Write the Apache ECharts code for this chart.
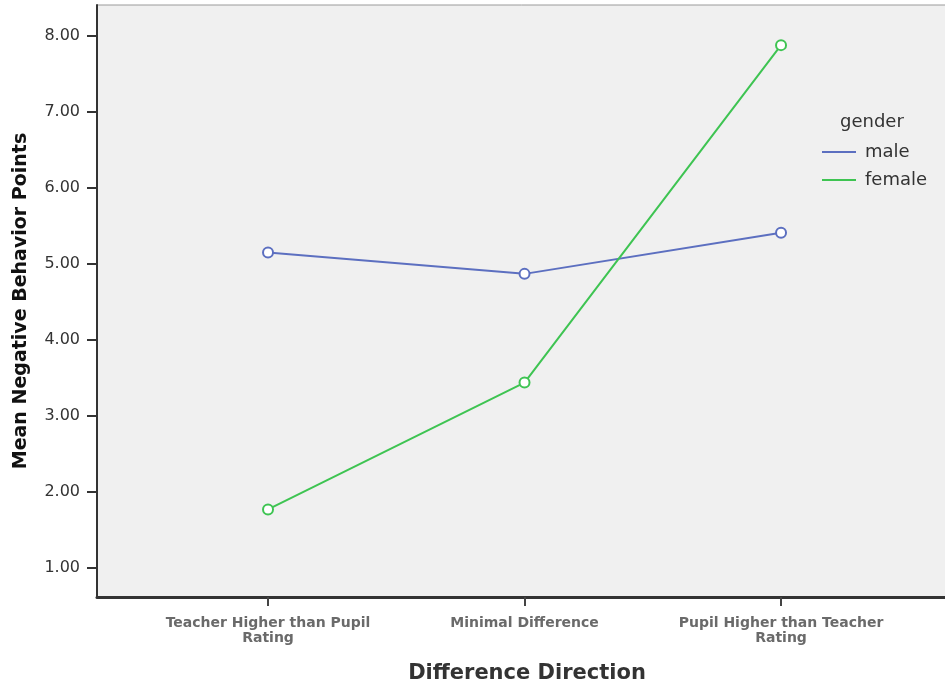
<!DOCTYPE html>
<html><head><meta charset="utf-8">
<script src="https://cdn.jsdelivr.net/npm/echarts@6/dist/echarts.min.js"></script>
<style>html,body{margin:0;padding:0;background:#fff}#c{width:945px;height:689px}</style>
</head><body><div id="c"></div>
<script>
const categories = ['Teacher Higher than Pupil\nRating', 'Minimal Difference', 'Pupil Higher than Teacher\nRating'];
const maleValues = [5.15, 4.87, 5.41];
const femaleValues = [1.77, 3.44, 7.88];
const yTicks = [1, 2, 3, 4, 5, 6, 7, 8];
const seriesNames = ['male', 'female'];

const FONT = '"DejaVu Sans", sans-serif';
const chart = echarts.init(document.getElementById('c'));
const toPairs = arr => arr.map((v, i) => [i, v]);
chart.setOption({
  backgroundColor: '#ffffff',
  animation: false,
  grid: { left: 97, top: 5, width: 860, height: 592, outerBoundsMode: 'none', containLabel: false,
    show: true, backgroundColor: '#f0f0f0', borderColor: '#9a9a9a', borderWidth: 1 },
  graphic: [{ type: 'text', left: 840, top: 113, style: { text: 'gender', fontSize: 18, fill: '#333', fontFamily: FONT } }],
  legend: {
    orient: 'vertical', left: 822, top: 143, padding: 0, itemWidth: 34, itemHeight: 2, itemGap: 10, icon: 'rect',
    data: seriesNames,
    textStyle: { fontSize: 18, color: '#333', fontFamily: FONT, padding: [0, 0, 0, 4] }
  },
  xAxis: {
    type: 'value', min: -0.6667, max: 2.686,
    name: 'Difference Direction', nameLocation: 'middle', nameGap: 66,
    nameTextStyle: { fontSize: 21, fontWeight: 'bold', color: '#333', fontFamily: FONT },
    axisLine: { show: true, onZero: false, lineStyle: { color: '#333', width: 3 } },
    axisTick: { show: true, length: 9, customValues: [0, 1, 2], lineStyle: { color: '#444', width: 2 } },
    axisLabel: { customValues: [0, 1, 2], margin: 19, fontSize: 14, fontWeight: 'bold', lineHeight: 15, color: '#6a6a6a', fontFamily: FONT,
      formatter: v => categories[Math.round(v)] },
    splitLine: { show: false }
  },
  yAxis: {
    type: 'value', min: 0.618, max: 8.408,
    name: 'Mean Negative Behavior Points', nameLocation: 'middle', nameGap: 66,
    nameTextStyle: { fontSize: 19, fontWeight: 'bold', color: '#111', fontFamily: FONT },
    axisLine: { show: true, onZero: false, lineStyle: { color: '#333', width: 2 } },
    axisTick: { show: true, length: 10, customValues: yTicks, lineStyle: { color: '#333', width: 2 } },
    axisLabel: { customValues: yTicks, margin: 17, fontSize: 16, color: '#333', fontFamily: FONT, formatter: v => v.toFixed(2) },
    splitLine: { show: false }
  },
  series: [
    { name: seriesNames[0], type: 'line', data: toPairs(maleValues), symbol: 'emptyCircle', symbolSize: 10,
      lineStyle: { color: '#5c6fc0', width: 2 }, itemStyle: { color: '#5c6fc0', borderWidth: 2 } },
    { name: seriesNames[1], type: 'line', data: toPairs(femaleValues), symbol: 'emptyCircle', symbolSize: 10,
      lineStyle: { color: '#3ec452', width: 2 }, itemStyle: { color: '#3ec452', borderWidth: 2 } }
  ]
});
</script></body></html>
